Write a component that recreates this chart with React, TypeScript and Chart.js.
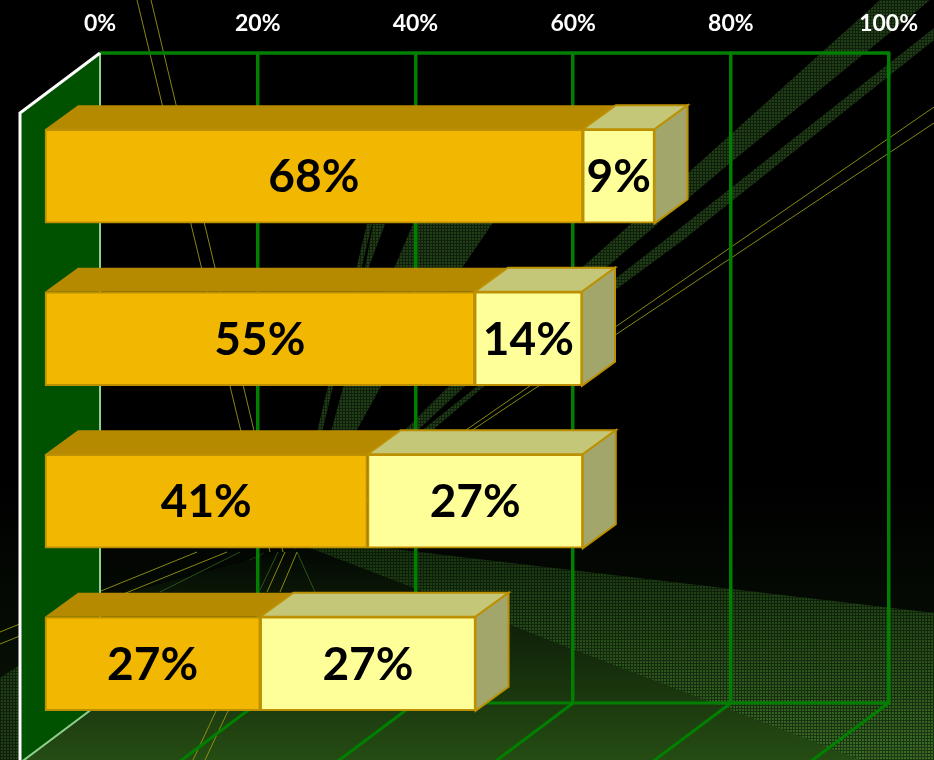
import React, { useEffect, useRef } from "react";
import { Chart, registerables } from "chart.js";

Chart.register(...registerables);

const categories = ["Row 1", "Row 2", "Row 3", "Row 4"];
const orangeValues = [68.2, 54.5, 40.9, 27.3];
const yellowValues = [9.1, 13.6, 27.3, 27.3];
const axisTicks = [0, 20, 40, 60, 80, 100];

const DEPTH_X = 33;
const DEPTH_Y = -24;
const SHIFT_X = -55;
const SHIFT_Y = 42;
const GRID = "#007f00";

function poly(ctx: CanvasRenderingContext2D, pts: number[][]) {
  ctx.beginPath();
  pts.forEach((p, i) => (i ? ctx.lineTo(p[0], p[1]) : ctx.moveTo(p[0], p[1])));
  ctx.closePath();
}

function makeDither(ctx: CanvasRenderingContext2D) {
  const c = document.createElement("canvas");
  c.width = 3;
  c.height = 3;
  const g = c.getContext("2d")!;
  g.fillStyle = "rgba(0,0,0,0.5)";
  g.fillRect(0, 0, 3, 1);
  g.fillRect(0, 1, 1, 2);
  return ctx.createPattern(c, "repeat")!;
}

const backgroundPlugin = {
  id: "scene",
  beforeDraw(chart: any) {
    const { ctx, width, height } = chart;
    const dither = makeDither(ctx);
    const A = [295, 548];
    ctx.save();
    const bg = ctx.createLinearGradient(0, 480, 0, 760);
    bg.addColorStop(0, "#000000");
    bg.addColorStop(1, "#0a1607");
    ctx.fillStyle = "#000";
    ctx.fillRect(0, 0, width, height);
    ctx.fillStyle = bg;
    ctx.fillRect(0, 480, width, 280);

    const bands: number[][][] = [
      // long rays toward the upper right
      [[880, 0], [930, 0], [730, 163], [463, 388], [420, 428], A, [407, 428], [447, 388], [688, 173]],
      [[934, 28], [934, 40], [683, 240], [482, 388], [435, 428], A, [425, 428], [475, 388], [665, 240]],
      // fans above the horizon
      [[420, 150], [530, 150], [492, 224], [380, 388], [358, 428], A, [332, 428], [343, 388], [413, 224]],
      [[373, 224], [385, 224], [362, 285]],
      [[372, 224], [367, 224], [318, 428], A, [323, 428]],
      // fans in the low gaps
      [[265, 552], [183, 592], [220, 592]],
      [[297, 552], [305, 552], [333, 592], [318, 592]],
      [[200, 710], [208, 710], [185, 760], [170, 760]],
      [[0, 678], [20, 665], [20, 760], [0, 760]],
    ];
    bands.forEach((b) => {
      poly(ctx, b);
      ctx.fillStyle = "#213f17";
      ctx.fill();
      ctx.fillStyle = dither;
      ctx.fill();
    });

    // lit wedge under the horizon
    const wedge = ctx.createLinearGradient(0, 540, 0, 760);
    wedge.addColorStop(0, "#16330f");
    wedge.addColorStop(1, "#396e24");
    poly(ctx, [[300, 538], [934, 613], [934, 800], A]);
    ctx.fillStyle = wedge;
    ctx.fill();
    ctx.fillStyle = dither;
    ctx.fill();

    // dark floor
    const floor = ctx.createLinearGradient(0, 550, 0, 760);
    floor.addColorStop(0, "#030803");
    floor.addColorStop(1, "#254c13");
    poly(ctx, [[310, 548], [934, 788], [934, 800], [20, 800], [20, 690], [100, 600], A]);
    ctx.fillStyle = floor;
    ctx.fill();

    // thin yellow rays
    ctx.strokeStyle = "rgba(150,150,20,0.9)";
    ctx.lineWidth = 1;
    const rays = [
      [934, 107, 295, 548],
      [934, 123, 295, 548],
      [137, 0, 270, 552],
      [151, 0, 283, 552],
      [0, 632, 197, 552],
      [0, 644, 227, 552],
      [193, 760, 240, 660],
      [205, 760, 252, 660],
      [285, 552, 267, 592],
      [297, 552, 280, 592],
    ];
    rays.forEach((r) => {
      ctx.beginPath();
      ctx.moveTo(r[0], r[1]);
      ctx.lineTo(r[2], r[3]);
      ctx.stroke();
    });
    ctx.strokeStyle = "rgba(45,90,30,0.9)";
    [
      [160, 592, 240, 552],
      [260, 590, 278, 552],
      [315, 592, 297, 552],
    ].forEach((r) => {
      ctx.beginPath();
      ctx.moveTo(r[0], r[1]);
      ctx.lineTo(r[2], r[3]);
      ctx.stroke();
    });

    // left wall
    const { left, top, bottom } = chart.chartArea;
    poly(ctx, [
      [left, top],
      [left - 80, top + 60],
      [left - 80, bottom + 60],
      [left, bottom],
    ]);
    ctx.fillStyle = "#005200";
    ctx.fill();
    ctx.restore();
  },
  beforeDatasetsDraw(chart: any) {
    const { ctx } = chart;
    const { left, right, top, bottom } = chart.chartArea;
    const xScale = chart.scales.x;
    ctx.save();
    // back wall top edge
    ctx.strokeStyle = GRID;
    ctx.lineWidth = 3.5;
    ctx.beginPath();
    ctx.moveTo(left, top);
    ctx.lineTo(right + 1.75, top);
    ctx.stroke();
    // floor lines and back wall bottom edge
    ctx.lineWidth = 3;
    ctx.beginPath();
    ctx.moveTo(left, bottom);
    ctx.lineTo(right + 1, bottom);
    ctx.stroke();
    axisTicks.slice(1).forEach((t) => {
      const x = xScale.getPixelForValue(t);
      ctx.beginPath();
      ctx.moveTo(x, bottom);
      ctx.lineTo(x - 80, bottom + 60);
      ctx.stroke();
    });
    // wall edges
    ctx.strokeStyle = "#8fd08f";
    ctx.lineWidth = 2;
    ctx.beginPath();
    ctx.moveTo(left, top);
    ctx.lineTo(left, bottom);
    ctx.lineTo(left - 80, bottom + 60);
    ctx.stroke();
    ctx.strokeStyle = "#ffffff";
    ctx.lineWidth = 3;
    ctx.beginPath();
    ctx.moveTo(left, top);
    ctx.lineTo(left - 80, top + 60);
    ctx.lineTo(left - 80, bottom + 60);
    ctx.stroke();

    // 3D faces of the bars
    const last = chart.data.datasets.length - 1;
    chart.data.datasets.forEach((ds: any, di: number) => {
      chart.getDatasetMeta(di).data.forEach((bar: any) => {
        const { x, y, base, height } = bar.getProps(["x", "y", "base", "height"], true);
        const x0 = base + SHIFT_X;
        const x1 = x + SHIFT_X;
        const y0 = y - height / 2 + SHIFT_Y;
        const y1 = y + height / 2 + SHIFT_Y;
        ctx.lineWidth = 2;
        ctx.strokeStyle = "#BC9000";
        poly(ctx, [
          [x0, y0],
          [x0 + DEPTH_X, y0 + DEPTH_Y],
          [x1 + DEPTH_X, y0 + DEPTH_Y],
          [x1, y0],
        ]);
        ctx.fillStyle = ds.topColor;
        ctx.fill();
        if (di === last) {
          ctx.stroke();
          poly(ctx, [
            [x1, y0],
            [x1 + DEPTH_X, y0 + DEPTH_Y],
            [x1 + DEPTH_X, y1 + DEPTH_Y],
            [x1, y1],
          ]);
          ctx.fillStyle = ds.sideColor;
          ctx.fill();
          ctx.stroke();
        }
      });
    });
    ctx.restore();
    ctx.save();
    ctx.translate(SHIFT_X, SHIFT_Y);
  },
  afterDatasetsDraw(chart: any) {
    const { ctx } = chart;
    ctx.restore();
    ctx.save();
    ctx.fillStyle = "#000";
    ctx.font = "bold 46px Lato";
    ctx.textAlign = "center";
    ctx.textBaseline = "middle";
    chart.data.datasets.forEach((ds: any, di: number) => {
      chart.getDatasetMeta(di).data.forEach((bar: any, i: number) => {
        const { x, y, base } = bar.getProps(["x", "y", "base"], true);
        ctx.fillText(
          `${Math.round(ds.data[i])}%`,
          (x + base) / 2 + SHIFT_X,
          y + SHIFT_Y + 1
        );
      });
    });
    ctx.restore();
  },
};

export default function App() {
  const ref = useRef<HTMLCanvasElement>(null);
  useEffect(() => {
    document.body.style.margin = "0";
    document.body.style.background = "#000";
    const chart = new Chart(ref.current!, {
      type: "bar",
      data: {
        labels: categories,
        datasets: [
          {
            label: "Orange",
            data: orangeValues,
            backgroundColor: "#F2B700",
            borderColor: "#BC9000",
            borderWidth: 2,
            borderSkipped: false,
            barThickness: 94,
            clip: false,
            topColor: "#B68A00",
            sideColor: "#B68A00",
          } as any,
          {
            label: "Yellow",
            data: yellowValues,
            backgroundColor: "#FFFF99",
            borderColor: "#BC9000",
            borderWidth: 2,
            borderSkipped: false,
            barThickness: 94,
            clip: false,
            topColor: "#C4C678",
            sideColor: "#A3A66A",
          } as any,
        ],
      },
      options: {
        indexAxis: "y",
        responsive: false,
        animation: false,
        layout: { padding: { left: 100, right: 45, top: 0, bottom: 57 } },
        plugins: { legend: { display: false }, tooltip: { enabled: false } },
        scales: {
          x: {
            position: "top",
            stacked: true,
            min: 0,
            max: 100,
            afterFit(s: any) {
              s.height = 53;
            },
            afterBuildTicks(s: any) {
              s.ticks = axisTicks.map((value) => ({ value }));
            },
            grid: {
              color: GRID,
              lineWidth: (c: any) => (c.tick && c.tick.value === 0 ? 0 : 3.5),
              drawTicks: false,
            },
            border: { display: false },
            ticks: {
              maxRotation: 0,
              padding: 16,
              color: "#ffffff",
              font: { family: "Lato", weight: "bold", size: 23 },
              callback: (v: any) => `${v}%`,
            },
          },
          y: { display: false, stacked: true },
        },
      },
      plugins: [backgroundPlugin],
    } as any);
    return () => chart.destroy();
  }, []);
  return <canvas ref={ref} width={934} height={760} style={{ display: "block" }} />;
}
